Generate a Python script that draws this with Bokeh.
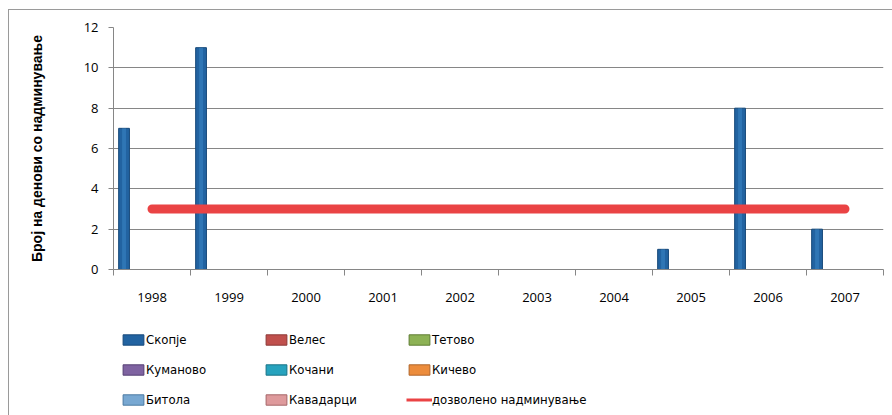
from bokeh.plotting import figure
from bokeh.models import ColumnDataSource, FixedTicker, Legend, LegendItem, Range1d
from bokeh.layouts import column
from bokeh.transform import dodge
from bokeh.embed import file_html
from bokeh.resources import INLINE

# Number of days above the limit, per town and year
years = ["1998", "1999", "2000", "2001", "2002", "2003", "2004", "2005", "2006", "2007"]
skopje = [7, 11, 0, 0, 0, 0, 0, 1, 8, 2]
veles = [0, 0, 0, 0, 0, 0, 0, 0, 0, 0]
tetovo = [0, 0, 0, 0, 0, 0, 0, 0, 0, 0]
kumanovo = [0, 0, 0, 0, 0, 0, 0, 0, 0, 0]
kochani = [0, 0, 0, 0, 0, 0, 0, 0, 0, 0]
kichevo = [0, 0, 0, 0, 0, 0, 0, 0, 0, 0]
bitola = [0, 0, 0, 0, 0, 0, 0, 0, 0, 0]
kavadarci = [0, 0, 0, 0, 0, 0, 0, 0, 0, 0]
# permitted number of exceedances
limit = [3, 3, 3, 3, 3, 3, 3, 3, 3, 3]
y_ticks = [0, 2, 4, 6, 8, 10, 12]

series = [
    ("skopje", "Скопје", skopje, "#2263A1", "#17497A"),
    ("veles", "Велес", veles, "#C0504D", "#8C3836"),
    ("tetovo", "Тетово", tetovo, "#8DB255", "#5E7D33"),
    ("kumanovo", "Куманово", kumanovo, "#7F63A1", "#553F73"),
    ("kochani", "Кочани", kochani, "#27A3BE", "#187386"),
    ("kichevo", "Кичево", kichevo, "#EC8C3C", "#B0652A"),
    ("bitola", "Битола", bitola, "#78A8D2", "#4A7AA3"),
    ("kavadarci", "Кавадарци", kavadarci, "#DE9A9C", "#A56668"),
]
LIMIT_LABEL = "дозволено надминување"
LIMIT_COLOR = "#EA4344"

idx = list(range(len(years)))
data = dict(x=idx, year=years, limit=limit)
for key, _, vals, _, _ in series:
    data[key] = vals
source = ColumnDataSource(data)

FONT = "Open Sans"
LEG_FONT = "DejaVu Sans Condensed"
GRAY = "#868686"

# ---- chart ----
p = figure(
    width=883, height=305,
    x_range=Range1d(-0.5, len(years) - 0.5), y_range=Range1d(0, 12),
    output_backend="svg", toolbar_location=None,
    min_border_left=104, min_border_right=9, min_border_top=17, min_border_bottom=46,
)
p.outline_line_color = None
p.background_fill_color = "white"
p.border_fill_color = "white"

# clustered columns, one slot per town inside each year
bar_w = 0.14
for k, (key, label, _, fill, edge) in enumerate(series):
    off = -0.363 + k * 0.1037
    p.vbar(x=dodge("x", off, range=p.x_range), top=key, bottom=0, width=bar_w,
           source=source, fill_color=fill, line_color=edge, line_width=1)

# highlight strip down the middle of the first series' columns
p.vbar(x=dodge("x", -0.363, range=p.x_range), top="skopje", bottom=0, width=0.05,
       source=source, fill_color="#3B86C6", fill_alpha=0.55, line_color=None)

p.line(x="x", y="limit", source=source, line_color=LIMIT_COLOR,
       line_width=9, line_cap="round")

# axes
p.xgrid.visible = False
p.ygrid.grid_line_color = GRAY
p.ygrid.grid_line_width = 1

p.yaxis.ticker = FixedTicker(ticks=y_ticks)
p.yaxis.axis_line_color = GRAY
p.yaxis.major_tick_line_color = GRAY
p.yaxis.major_tick_out = 5
p.yaxis.major_tick_in = 0
p.yaxis.minor_tick_line_color = None
p.yaxis.major_label_text_font = FONT
p.yaxis.major_label_text_font_size = "13px"
p.yaxis.major_label_text_color = "black"
p.yaxis.major_label_standoff = 10
p.yaxis.axis_label = "Број на денови со надминување"
p.yaxis.axis_label_text_font = "Liberation Sans"
p.yaxis.axis_label_text_font_style = "bold"
p.yaxis.axis_label_text_font_size = "14px"
p.yaxis.axis_label_text_color = "black"
p.yaxis.axis_label_standoff = 36

p.xaxis.ticker = FixedTicker(ticks=idx, minor_ticks=[i - 0.5 for i in range(len(years) + 1)])
p.xaxis.major_label_overrides = {i: y for i, y in zip(idx, years)}
p.xaxis.axis_line_color = GRAY
p.xaxis.major_tick_line_color = None
p.xaxis.major_tick_out = 0
p.xaxis.major_tick_in = 0
p.xaxis.minor_tick_line_color = GRAY
p.xaxis.minor_tick_out = 6
p.xaxis.minor_tick_in = 0
p.xaxis.major_label_text_font = FONT
p.xaxis.major_label_text_font_size = "13px"
p.xaxis.major_label_text_color = "black"
p.xaxis.major_label_standoff = 17

# ---- legend strip under the chart ----
# its ranges sit far from the data, so its renderers only feed the legend swatches
lp = figure(
    width=883, height=100, x_range=Range1d(100, 101), y_range=Range1d(100, 101),
    output_backend="svg", toolbar_location=None,
    x_axis_location=None, y_axis_location=None,
    min_border=0, min_border_left=0, min_border_right=0,
    min_border_top=0, min_border_bottom=0,
)
lp.outline_line_color = None
lp.xgrid.visible = False
lp.ygrid.visible = False
lp.border_fill_color = "white"

keys = {}
for key, label, _, fill, edge in series:
    keys[key] = (label, lp.vbar(x="x", top=key, bottom=0, width=0.1, source=source,
                                fill_color=fill, line_color=edge, line_width=1))
keys["limit"] = (LIMIT_LABEL, lp.line(x="x", y="limit", source=source,
                                      line_color=LIMIT_COLOR, line_width=3))

columns = [
    ["skopje", "kumanovo", "bitola"],
    ["veles", "kochani", "kavadarci"],
    ["tetovo", "kichevo", "limit"],
]
col_x = [7, 150, 293]
for cx, col in zip(col_x, columns):
    items = [LegendItem(label=keys[k][0], renderers=[keys[k][1]]) for k in col]
    lp.add_layout(Legend(
        items=items, location=(cx, 6), orientation="vertical",
        spacing=10, padding=0, margin=0, border_line_color=None,
        background_fill_alpha=0, glyph_width=26, glyph_height=13,
        label_standoff=0, label_height=20,
        label_text_font=LEG_FONT, label_text_font_size="13px",
        label_text_color="black"))

layout = column(p, lp, spacing=0)
layout.styles = {
    "margin-left": "8px", "margin-top": "9px",
    "border-left": "1px solid #9a9a9a", "border-top": "1px solid #9a9a9a",
}

open("out.html", "w").write(file_html(layout, INLINE))
